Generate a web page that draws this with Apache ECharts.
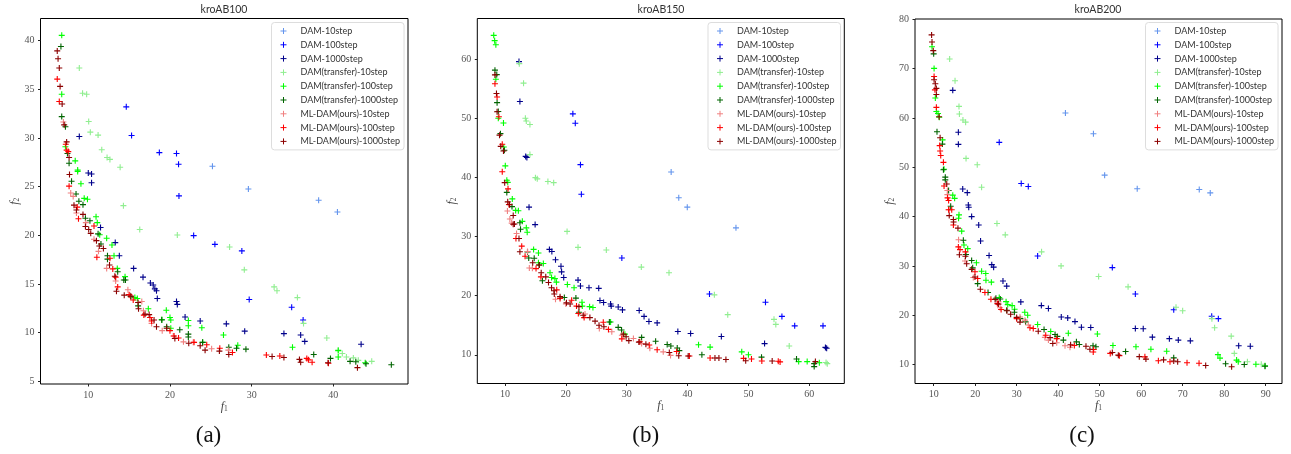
<!DOCTYPE html>
<html><head><meta charset="utf-8">
<script src="https://cdn.jsdelivr.net/npm/echarts@6/dist/echarts.min.js"></script>
<style>html,body{margin:0;padding:0;background:#fff}#c{width:1291px;height:454px}</style></head>
<body><div id="c"></div>
<script>
const seriesNames=['DAM-10step','DAM-100step','DAM-1000step','DAM(transfer)-10step','DAM(transfer)-100step','DAM(transfer)-1000step','ML-DAM(ours)-10step','ML-DAM(ours)-100step','ML-DAM(ours)-1000step'];
const seriesColors=['#6495ed','#0000ff','#00008b','#90ee90','#00ff00','#006400','#f08080','#ff0000','#8b0000'];
const panelTitles=['kroAB100','kroAB150','kroAB200'];
const captions=['(a)','(b)','(c)'];
const xTicksA=[10,20,30,40], yTicksA=[5,10,15,20,25,30,35,40];
const xTicksB=[10,20,30,40,50,60], yTicksB=[10,20,30,40,50,60];
const xTicksC=[10,20,30,40,50,60,70,80,90], yTicksC=[10,20,30,40,50,60,70,80];

const a_dam10=[[25.2,27.1],[29.6,24.76],[38.2,23.6],[40.5,22.4]];
const a_dam100=[[14.65,33.2],[15.3,30.25],[18.7,28.5],[20.8,28.4],[21.05,27.3],[21.1,24.05],[22.9,19.97],[25.5,19.07],[28.8,18.4],[29.7,13.4],[34.9,12.6],[36.3,11.3]];
const a_dam1000=[[8.9,30.15],[10,26.4],[10.4,26.3],[10.4,25.4],[11.5,20.8],[13.3,19.25],[13.8,17.9],[15.55,16.6],[16.7,15.7],[17.6,15.1],[17.95,14.9],[18.15,14.5],[18.35,14.3],[18.45,13.5],[20.8,13.2],[20.9,12.9],[21.85,11.6],[23.7,11.2],[26.9,10.9],[29.15,10.15],[33.95,9.9],[36,9.75],[36.5,9.1],[43.4,8.8]];
const a_tr10=[[8.9,37.2],[9.3,34.6],[9.8,34.5],[10.05,31.7],[10.25,30.6],[11.2,30.3],[11.65,28.8],[12.3,28],[12.65,27.8],[13.9,27],[14.3,23.05],[16.3,20.6],[20.9,20.03],[27.3,18.8],[29.1,16.45],[32.75,14.7],[33.1,14.3],[35.6,13.6],[36.35,10.95],[39.2,9.45],[41.1,7.85],[40.6,8.2],[42.45,7.4],[43.05,7.15],[44.7,7.05],[41.6,7.5]];
const a_tr100=[[6.75,40.55],[6.75,34.5],[7.2,29.1],[8.4,27.65],[8.7,26.7],[8.7,26.55],[9.1,25.3],[9.5,23.8],[9.9,23.7],[10.95,21.9],[11.1,21.3],[11.4,20.05],[12.25,19.7],[12.9,19],[13.15,17.9],[13.55,16.6],[14.5,15.75],[15.7,13.6],[16,13.5],[17.35,12.45],[19.55,12.3],[20,11.55],[20.1,11.3],[22.25,11.25],[22.25,10.7],[23.9,10.5],[26.55,9.75],[28.3,8.7],[35,8.5],[40.6,7.5],[40.6,8.15],[43.9,6.9],[20.1,10.45],[19,11.35],[24,9]];
const a_tr1000=[[6.65,39.4],[6.75,32.2],[7.2,31.15],[7.45,28.4],[7.65,27.4],[7.95,25.55],[8.5,24.25],[8.85,23.5],[9.35,23.15],[9.65,21.75],[10.2,21.5],[11.2,20.15],[11.55,19.1],[12.35,17.9],[12.35,17.55],[13.6,16.25],[14.35,15.4],[14.55,15.4],[15.2,13.7],[16.1,12.75],[19,11.3],[19.6,10.6],[21.2,10.3],[22.25,9.85],[22.25,9.55],[24,9],[27.2,8.5],[28.15,8.4],[29.3,8.3],[37.6,7.75],[39.65,7.35],[42.05,7.05],[42.75,7],[44,6.8],[47.1,6.7]];
const a_ml10=[[6.95,31.65],[7.85,24.35],[8.15,24],[8.55,22.3],[9.7,21.3],[10.7,19.6],[11.25,18.35],[12.25,16.6],[13.35,15.3],[14.85,14.4],[16.55,13.2],[16.75,12.25],[19.05,10.2],[21.65,9.05],[20.4,9.65],[25.1,8.35],[27.15,8.2],[22.85,9],[17.75,10.95],[15.1,13.85]];
const a_ml100=[[6.2,36.05],[6.45,33.75],[7.25,29.35],[7.35,28.75],[7.55,28.6],[7.65,25.05],[8.65,22.9],[8.8,21.7],[10.7,20.95],[11.05,17.75],[12.65,17.65],[13,16.55],[13.35,15.7],[13.6,14.7],[15,13.9],[15.5,13.35],[16.8,11.8],[17.55,11.55],[17.75,11.2],[20,10.2],[20.5,9.65],[21.05,9.45],[22.95,9],[24.5,8.75],[26.1,8.4],[27.65,7.95],[31.8,7.7],[33.45,7.6],[36.75,7.35],[37.4,6.95],[39.4,6.85],[36.95,7.2]];
const a_ml1000=[[6.2,38.95],[6.3,38.15],[6.45,37.2],[6.55,35.3],[6.8,33.5],[7.05,31.35],[7.35,29.6],[7.65,28],[7.7,26.25],[8.25,23.1],[8.55,22.6],[9.35,22.15],[9.65,20.9],[10.05,20.6],[10.3,20.2],[11,19.45],[11.35,18.9],[11.85,18.65],[12.6,16.95],[13.25,15.8],[13.45,14.25],[14.4,13.85],[15.2,13.75],[16.1,13.1],[16.15,12.45],[16.95,11.9],[17.45,11.85],[18.05,11.3],[18.35,10.6],[19.6,10.45],[20.6,9.4],[22.3,8.9],[23.7,8.65],[24.3,8.2],[26.05,8.1],[27.2,7.75],[32.5,7.55],[33.95,7.45],[35.85,7.25],[36,6.95],[39.35,6.9],[42.95,6.4]];

const b_dam10=[[37.3,40.95],[38.55,36.6],[39.95,35],[47.95,31.5]];
const b_dam100=[[21.15,50.8],[21.55,49.2],[22.4,42.2],[22.55,37.2],[29.2,26.4],[43.6,20.3],[52.8,18.9],[55.5,16.5],[57.6,14.9],[62.25,14.9]];
const b_dam1000=[[12.3,59.65],[12.45,52.9],[13.4,43.6],[13.6,43.4],[13.95,35],[14.95,32.05],[17.3,27.85],[17.7,27.5],[18.3,26.1],[19.2,25],[19.3,24.05],[19.65,23.1],[22,22.65],[22.4,21.65],[23.8,21.35],[25.4,21.25],[25.6,19.2],[26.2,18.85],[27.35,18.6],[27.45,18.25],[28.6,18.1],[29.3,17.6],[32.05,17.5],[32.85,16.5],[33.65,15.65],[35,15.4],[38.4,13.95],[40.5,13.6],[45.55,13.1],[52.65,11.9],[62.65,11.25],[62.85,11.1]];
const b_tr10=[[12.35,59.3],[13.05,56],[13.35,50.05],[13.5,49.6],[14.1,49],[14.1,43.9],[15,40],[15.3,39.8],[17.05,39.35],[18,39.15],[20.2,30.9],[22,28.2],[26.65,27.75],[32.4,24.85],[36.95,23.9],[44.4,20.15],[46.6,16.8],[54.2,16],[54.5,15.15],[56.7,11.5],[62.75,8.7],[62.95,8.5]];
const b_tr100=[[8.15,64.1],[8.3,63.2],[8.5,62.5],[8.5,56.65],[8.9,50.05],[9.75,49.25],[9.8,45.2],[10.05,42],[10.3,39.55],[10.45,39.2],[11.2,36.4],[11.75,34.45],[12.2,34.4],[12.85,32.6],[13.5,31.5],[13.65,30.75],[14.7,27.85],[15.5,27.25],[15.5,25.6],[16.3,25.45],[17.4,23.9],[17.65,23.1],[18.2,22.9],[18.45,22.3],[20.25,21.9],[21.35,21.35],[22.65,18.9],[22.7,18.25],[23.9,18.15],[24.45,18],[27.35,15.55],[29.7,13.5],[41.8,11.7],[43.7,11.3],[48.9,10.5],[50,10],[58.25,8.85],[59.65,8.85],[61.65,8.65]];
const b_tr1000=[[8.35,58.2],[8.65,57.45],[8.7,52.7],[8.9,51.2],[9.25,47.45],[9.9,44.65],[10.3,37.5],[11.15,35.1],[12.45,32.35],[12.55,31.25],[13.7,27.4],[13.9,26.4],[14.8,26.35],[15.65,25.2],[16.15,22.55],[19.75,19.7],[21.65,19.6],[22.15,17.2],[27.15,15.55],[28.6,14.65],[29.15,14.2],[32.45,12.95],[34.75,12.3],[36.65,11.75],[37.25,11.5],[38.3,11.15],[38.65,10.7],[42.35,10],[52.15,9.6],[57.9,9.3],[60.8,8],[60.8,8.5]];
const b_ml10=[[10.4,34.35],[10.8,33],[11.1,32.3],[11.9,30.55],[13.7,27.5],[14,24.7],[14.5,24.65],[18.3,19.4],[20,18.6],[23.15,16.9],[25.5,14.45],[27.55,13.9],[31.1,12.75],[32.45,11.9],[33.8,11.1],[36,10.5],[37.2,9.9],[29.2,13.3]];
const b_ml100=[[8.35,55.9],[8.7,53.65],[9,50.3],[9.55,45.65],[9.55,41],[10.5,38.1],[10.65,35.45],[11.8,29.7],[12.75,28.4],[13.3,26.7],[15.1,24.6],[15.9,23.2],[18.5,21],[19.05,19.55],[20.95,19.25],[21.75,18.25],[22.05,17],[23,16.3],[26.15,15.5],[27,14.3],[29.2,12.7],[32.15,12.2],[33.7,11.65],[35,10.85],[38.2,10.55],[40.3,9.8],[43.7,9.45],[49.2,9.4],[50.5,9.3],[52.2,8.95],[54.9,8.9],[55.2,8.8]];
const b_ml1000=[[8.35,57.4],[8.6,54.25],[8.7,51.15],[9.1,47.2],[9.3,45.3],[9.75,44.5],[9.95,39.15],[10.45,35.9],[10.75,35.4],[11.35,33.6],[11.35,32.1],[11.55,32.15],[12.3,29.7],[12.45,27.45],[14.55,25.6],[15.6,25.2],[15.95,23.9],[16.7,23.2],[17.15,22.25],[17.65,21.35],[18.05,20.85],[18.1,20.3],[19.05,19.85],[20.1,18.8],[20.7,18.6],[22.15,18.15],[22.85,16.7],[23.95,16.3],[24.8,15.7],[25.45,15],[26.25,14.75],[29.45,13.5],[29.9,13.05],[30.35,12.4],[32,12.15],[33.15,11.8],[37,10.4],[38.55,9.85],[40.1,9.8],[44.5,9.45],[45.15,9.45],[46.3,9.2],[49.55,9],[53.9,8.95],[61,8.85]];

const c_dam10=[[41.75,61],[48.5,56.8],[51.2,48.4],[59.05,45.65],[74,45.5],[76.65,44.8]];
const c_dam100=[[25.8,55.05],[31.1,46.7],[32.8,46.1],[35.05,32],[53.05,29.65],[58.6,24.3],[67.85,21.1],[77,19.8],[78.6,19.3]];
const c_dam1000=[[14.6,65.6],[15.95,57.1],[15.95,54.65],[17,45.6],[18.1,44.85],[18.35,42.35],[18.45,41.9],[19.15,40],[20.85,38.3],[21.3,35.05],[23.35,32.1],[24,30.25],[24.45,29.75],[26.7,26.95],[27.6,25.9],[31,22.7],[35.95,21.95],[37.65,21.35],[40.75,19.65],[42.3,19.45],[44.05,18.7],[45.6,17.55],[47.85,17.5],[58.6,17.3],[60.5,17.25],[62.7,15.55],[66.8,15.25],[68.95,14.95],[71.85,14.8],[83.5,13.8],[86.3,13.7]];
const c_tr10=[[13.85,71.95],[15.15,67.55],[16.1,62.35],[16.2,60.8],[17.05,59.6],[17.7,59.15],[17.8,51.8],[20.5,50.5],[21.55,45.95],[25.25,38.6],[27.25,36.3],[36,32.85],[40.7,30],[49.75,27.85],[56.85,25.75],[68.4,21.6],[70,20.9],[77.05,19.3],[77.7,17.45],[81.7,15.75],[82.45,12.25],[85.6,10.55],[88.95,10.05]];
const c_tr100=[[9.6,74.45],[10.1,70.05],[10.4,64.05],[10.65,61.3],[11.05,60.9],[11.35,60.15],[12.15,55.55],[12.5,49.6],[14.6,44.35],[15.05,43.7],[16.1,40.35],[16,39.65],[16.75,37.05],[17.3,34.25],[18.2,33.5],[20.3,30.65],[21.55,28.9],[22.55,28.45],[22.6,27.1],[23.9,26.7],[25.8,23.6],[27.45,22.75],[27.85,22.15],[28.9,21.95],[29.5,21.2],[31.95,20.6],[32.65,20],[35.05,18.1],[38.2,16.7],[42.45,16.35],[49.45,16.2],[53.2,13.85],[58.75,13.6],[62.35,13.1],[66.15,12.7],[78.5,12],[79,11.3],[83,10.9],[83.4,10.55],[87.65,10.05],[89.85,9.75]];
const c_tr1000=[[10,73],[10.8,57.2],[12.1,54.7],[12.35,49.5],[12.8,48],[12.8,47.45],[13.6,45.3],[14.1,42.1],[17.15,35.2],[17.8,32.3],[19.15,31.1],[19.4,29.6],[20.6,26.4],[23.1,24.6],[25,23.45],[26.05,23.3],[27.6,21],[29.45,20.6],[30.9,19.3],[32.15,18.65],[36.6,17.1],[39.25,16.1],[39.8,15.7],[41.25,14.95],[44.4,14.6],[45.1,14.05],[48.4,13.8],[49.1,13.6],[56.25,12.65],[67.85,11.35],[80.35,10.15],[84.85,10],[89.85,9.65]];
const c_ml10=[[16,35.3],[13.3,45.3],[13.3,44.45],[13.75,41.4],[17.55,31],[19.55,27.65],[25.6,22.7],[26,21.5],[32,19],[36.8,15.5],[37.65,14.95],[39.65,14.4],[41.65,13.8],[42.85,13.5],[30.8,19.65],[32.8,18]];
const c_ml100=[[10.1,68.4],[10.3,65.7],[10.65,62.15],[11.45,54.4],[11.55,53.3],[11.7,52.4],[12.35,51],[12.5,46.2],[13.35,43.8],[13.6,43.25],[13.6,41.4],[14.35,41.4],[14.75,38.3],[15.95,33.85],[16.35,33.3],[17.65,32.85],[19.95,28.8],[20.6,27.45],[22.35,24.6],[23.8,23.25],[25.35,22.35],[26.25,21.15],[30,19.3],[33.2,17.45],[34,17.3],[37,15.95],[39.65,15.25],[43.9,13.85],[48.45,12.55],[48.55,13.05],[52.55,12.25],[54.75,11.8],[60.9,11.55],[64.15,10.75],[66.95,10.55],[71.05,10.35],[73.95,10.25]];
const c_ml1000=[[9.5,76.85],[9.6,75.4],[9.9,73.65],[10.1,67.75],[10.4,66.95],[10.65,66],[10.65,64.75],[11.3,60.25],[11.55,56],[13.15,46.6],[13.75,40.2],[14.75,39.4],[15.85,37.65],[14.8,38.9],[16.2,32.25],[17.65,31.95],[17.95,30.45],[19.15,29.3],[19.95,27.75],[21.25,25.25],[24.8,23.2],[25.6,22.25],[27.65,20.9],[28.55,20.2],[30,19.55],[30.8,18.6],[35.2,16.75],[38.05,15.45],[38.7,14.25],[43,14],[46.7,13.7],[47.65,13.1],[53.05,12.45],[54.5,11.9],[59.55,11.6],[61.15,11.1],[65.4,10.95],[67.85,10.7],[68.8,10.55],[75.55,9.8],[81.8,9.55]];

const panels=[
 {data:[a_dam10,a_dam100,a_dam1000,a_tr10,a_tr100,a_tr1000,a_ml10,a_ml100,a_ml1000],xT:xTicksA,yT:yTicksA,x:[4.15,49.14],y:[4.72,42.28],g:[40.5,18.5,367.5,365.5],lg:[271.5,22.5],tx:224,cx:208.5},
 {data:[b_dam10,b_dam100,b_dam1000,b_tr10,b_tr100,b_tr1000,b_ml10,b_ml100,b_ml1000],xT:xTicksB,yT:yTicksB,x:[5.45,65.75],y:[5.14,66.95],g:[477.3,18.5,367,365],lg:[708,22.5],tx:661,cx:645.7},
 {data:[c_dam10,c_dam100,c_dam1000,c_tr10,c_tr100,c_tr1000,c_ml10,c_ml100,c_ml1000],xT:xTicksC,yT:yTicksC,x:[5.5,93.94],y:[6.15,80.07],g:[915,19,367,364.5],lg:[1145.5,22.5],tx:1098,cx:1082}
];
const plus='path://M0 5H10M5 0V10';
const sans='"Lato","DejaVu Sans",sans-serif';
const nameRich={f:{fontFamily:'Liberation Serif',fontStyle:'italic',fontSize:12,color:'#444'},s:{fontFamily:'Liberation Serif',fontSize:7.5,color:'#444',verticalAlign:'bottom',padding:[5,0,0,0]}};
const grid=[],xAxis=[],yAxis=[],series=[],legend=[],title=[];
panels.forEach((p,i)=>{
 grid.push({left:p.g[0],top:p.g[1],width:p.g[2],height:p.g[3],show:true,borderColor:'#000',borderWidth:1,backgroundColor:'#fff'});
 const axisCommon=(ticks)=>({gridIndex:i,type:'value',splitLine:{show:false},axisLine:{show:false},nameMoveOverlap:false,
   axisTick:{show:true,length:2.5,inside:false,customValues:ticks,lineStyle:{color:'#222',width:1}},
   axisLabel:{customValues:ticks,fontFamily:'Liberation Serif',fontSize:10,color:'#555',margin:6}});
 xAxis.push(Object.assign(axisCommon(p.xT),{min:p.x[0],max:p.x[1],name:'{f|f}{s|1}',nameLocation:'middle',nameGap:16,nameTextStyle:{rich:nameRich}}));
 const ya=axisCommon(p.yT); ya.axisLabel.padding=[3,0,0,0];
 yAxis.push(Object.assign(ya,{min:p.y[0],max:p.y[1],name:'{f|f}{s|2}',nameLocation:'middle',nameGap:19,nameTextStyle:{rich:nameRich}}));
 seriesNames.forEach((n,k)=>series.push({name:n,type:'scatter',xAxisIndex:i,yAxisIndex:i,data:p.data[k],symbol:plus,symbolSize:6,
   itemStyle:{color:seriesColors[k],borderColor:seriesColors[k],borderWidth:1.1,opacity:1},emphasis:{disabled:true},silent:true,animation:false,clip:false}));
 legend.push({left:p.lg[0],top:p.lg[1],orient:'vertical',data:seriesNames.map(n=>({name:n,icon:plus})),itemWidth:24,itemHeight:6,itemGap:2.8,
   padding:[3,4,3,8.5],backgroundColor:'rgba(255,255,255,.9)',borderColor:'#ddd',borderWidth:1,borderRadius:3,selectedMode:false,
   textStyle:{fontFamily:sans,fontSize:9,color:'#333',lineHeight:11},itemStyle:{borderWidth:1}});
 title.push({text:panelTitles[i],left:p.tx,top:4,padding:0,textAlign:'center',textStyle:{fontFamily:sans,fontSize:10.5,fontWeight:'normal',color:'#333'}});
 title.push({text:captions[i],left:p.cx,top:424,padding:0,textAlign:'center',textStyle:{fontFamily:'Liberation Serif',fontSize:23,fontWeight:'normal',color:'#111'}});
});
const chart=echarts.init(document.getElementById('c'),null,{renderer:'canvas',width:1291,height:454});
chart.setOption({animation:false,backgroundColor:'#fff',tooltip:{show:false},grid,xAxis,yAxis,series,legend,title});
</script></body></html>
